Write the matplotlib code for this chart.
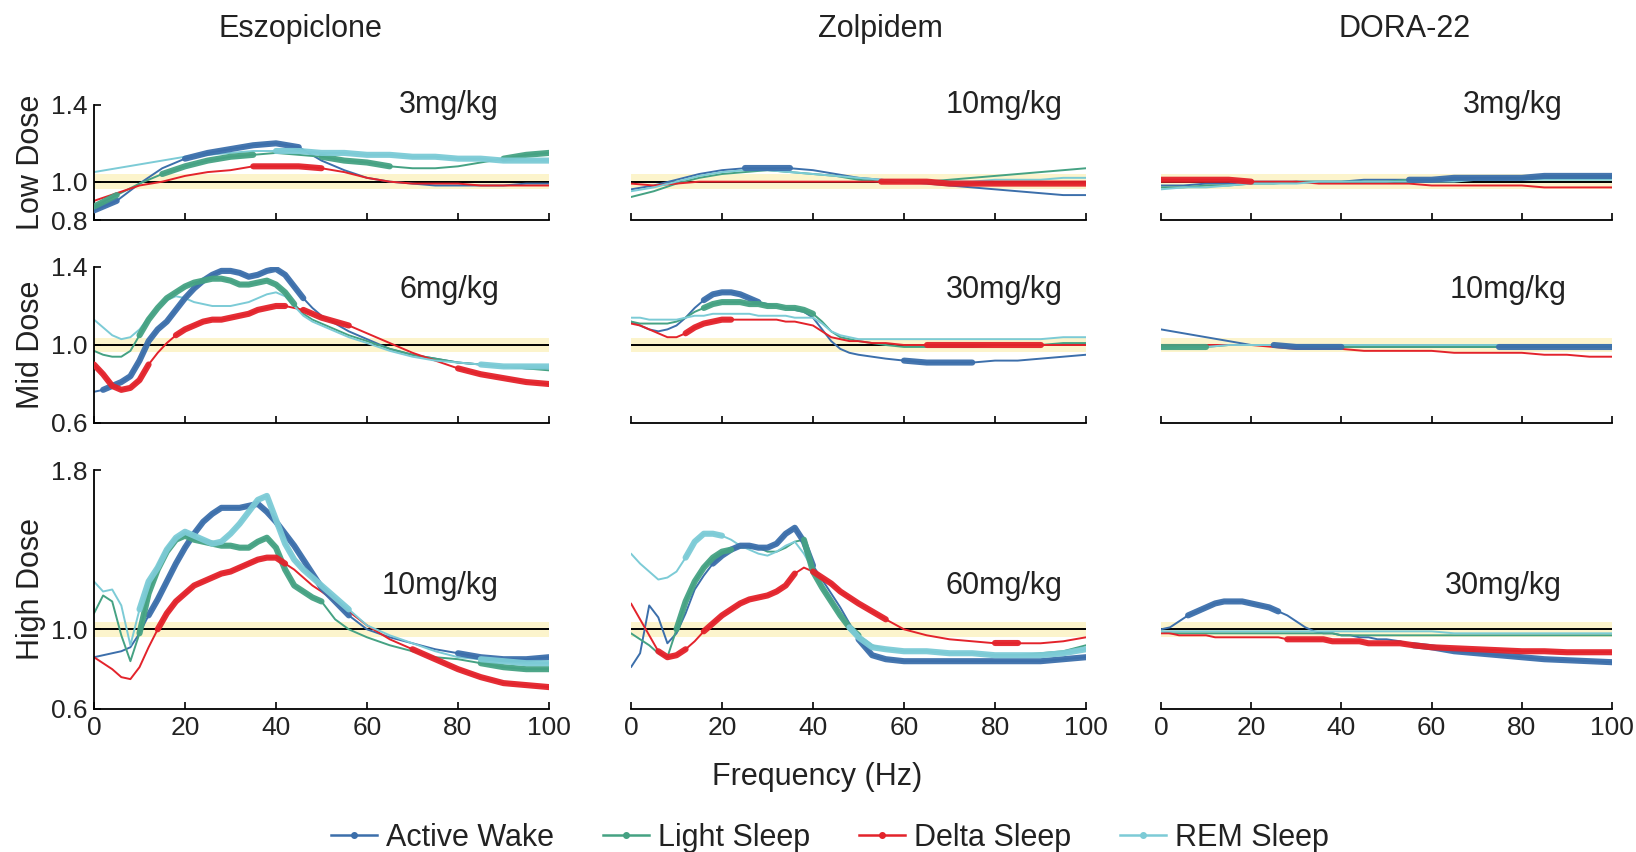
import numpy as np
import matplotlib
matplotlib.use("Agg")
import matplotlib.pyplot as plt
from matplotlib.lines import Line2D

plt.rcParams["font.family"] = ["Liberation Sans", "Noto Sans CJK JP", "DejaVu Sans"]

# ---------------------------------------------------------------- labels
DRUGS = ["Eszopiclone", "Zolpidem", "DORA-22"]
DOSE_ROWS = ["Low Dose", "Mid Dose", "High Dose"]
DOSE_TEXT = [["3mg/kg", "10mg/kg", "3mg/kg"],
             ["6mg/kg", "30mg/kg", "10mg/kg"],
             ["10mg/kg", "60mg/kg", "30mg/kg"]]
STATES = ["Active Wake", "Light Sleep", "Delta Sleep", "REM Sleep"]
Y_RANGES = [(0.8, 1.4), (0.6, 1.4), (0.6, 1.8)]
X_TICKS = [0, 20, 40, 60, 80, 100]

# ---------------------------------------------------------------- frequency grids (Hz)
FREQ_FINE = [0, 2, 4, 6, 8, 10, 12, 14, 16, 18, 20, 22, 24, 26, 28, 30, 32, 34, 36, 38,
             40, 42, 44, 46, 48, 50,
             53, 56, 60, 65, 70, 75, 80, 85, 90, 95, 100]
FREQ_COARSE = [0, 5, 10, 15, 20, 25, 30, 35, 40, 45, 50, 55, 60, 65, 70, 75, 80, 85, 90, 95, 100]

# ---------------------------------------------------------------- Eszopiclone
ESZ_LOW_AW = [0.85, 0.90, 0.99, 1.07, 1.12, 1.15, 1.17, 1.19, 1.20, 1.18, 1.11,
              1.06, 1.02, 1.00, 0.99, 0.98, 0.98, 0.98, 0.98, 0.99, 0.99]
ESZ_LOW_LS = [0.87, 0.93, 0.99, 1.04, 1.08, 1.11, 1.13, 1.14, 1.15, 1.14, 1.13,
              1.11, 1.10, 1.08, 1.07, 1.07, 1.08, 1.10, 1.12, 1.14, 1.15]
ESZ_LOW_DS = [0.90, 0.94, 0.98, 1.00, 1.03, 1.05, 1.06, 1.08, 1.08, 1.08, 1.07,
              1.05, 1.02, 1.00, 0.99, 0.99, 0.99, 0.98, 0.98, 0.98, 0.98]
ESZ_LOW_REM = [1.05, 1.07, 1.09, 1.11, 1.13, 1.14, 1.15, 1.16, 1.16, 1.16, 1.15,
               1.15, 1.14, 1.14, 1.13, 1.13, 1.12, 1.12, 1.11, 1.11, 1.11]
ESZ_LOW_SIG = [[(0, 5), (20, 45)], [(0, 5), (15, 35), (50, 65), (90, 100)],
               [(35, 50)], [(40, 100)]]

ESZ_MID_AW = [0.76, 0.77, 0.79, 0.81, 0.84, 0.92, 1.02, 1.08, 1.12, 1.18, 1.24, 1.29, 1.33,
              1.36, 1.38, 1.38, 1.37, 1.35, 1.36, 1.38, 1.39, 1.36, 1.30, 1.24, 1.19, 1.15,
              1.11, 1.07, 1.03, 0.98, 0.95, 0.93, 0.91, 0.90, 0.89, 0.88, 0.88]
ESZ_MID_LS = [0.97, 0.95, 0.94, 0.94, 0.97, 1.05, 1.13, 1.19, 1.24, 1.27, 1.30, 1.32, 1.33,
              1.34, 1.34, 1.33, 1.31, 1.31, 1.32, 1.33, 1.31, 1.27, 1.21, 1.16, 1.13, 1.11,
              1.08, 1.05, 1.02, 0.98, 0.95, 0.93, 0.91, 0.90, 0.89, 0.88, 0.87]
ESZ_MID_DS = [0.90, 0.85, 0.79, 0.77, 0.78, 0.82, 0.90, 0.96, 1.01, 1.05, 1.08, 1.10, 1.12,
              1.13, 1.13, 1.14, 1.15, 1.16, 1.18, 1.19, 1.20, 1.20, 1.19, 1.18, 1.16, 1.14,
              1.12, 1.10, 1.06, 1.01, 0.96, 0.92, 0.88, 0.85, 0.83, 0.81, 0.80]
ESZ_MID_REM = [1.13, 1.09, 1.05, 1.03, 1.04, 1.08, 1.14, 1.19, 1.23, 1.25, 1.24, 1.22, 1.21,
               1.20, 1.20, 1.20, 1.21, 1.22, 1.24, 1.26, 1.27, 1.25, 1.20, 1.15, 1.12, 1.10,
               1.07, 1.04, 1.01, 0.97, 0.94, 0.92, 0.91, 0.90, 0.89, 0.89, 0.89]
ESZ_MID_SIG = [[(2, 46)], [(10, 44)], [(0, 12), (18, 42), (46, 56), (80, 100)], [(85, 100)]]

ESZ_HIGH_AW = [0.86, 0.87, 0.88, 0.89, 0.91, 0.98, 1.07, 1.15, 1.24, 1.33, 1.41, 1.48, 1.54,
               1.58, 1.61, 1.61, 1.61, 1.62, 1.63, 1.59, 1.54, 1.48, 1.42, 1.35, 1.28, 1.21,
               1.14, 1.07, 1.00, 0.96, 0.93, 0.90, 0.88, 0.86, 0.85, 0.85, 0.86]
ESZ_HIGH_LS = [1.08, 1.17, 1.14, 0.97, 0.84, 0.98, 1.18, 1.30, 1.39, 1.45, 1.47, 1.45, 1.44,
               1.43, 1.42, 1.42, 1.41, 1.41, 1.44, 1.46, 1.41, 1.30, 1.22, 1.19, 1.16, 1.14,
               1.05, 1.00, 0.96, 0.92, 0.89, 0.86, 0.85, 0.83, 0.81, 0.80, 0.80]
ESZ_HIGH_DS = [0.86, 0.83, 0.80, 0.76, 0.75, 0.81, 0.91, 1.00, 1.08, 1.14, 1.18, 1.22, 1.24,
               1.26, 1.28, 1.29, 1.31, 1.33, 1.35, 1.36, 1.36, 1.33, 1.30, 1.26, 1.22, 1.19,
               1.14, 1.09, 1.02, 0.95, 0.90, 0.85, 0.80, 0.76, 0.73, 0.72, 0.71]
ESZ_HIGH_REM = [1.24, 1.19, 1.20, 1.12, 0.92, 1.10, 1.24, 1.31, 1.40, 1.46, 1.49, 1.47, 1.45,
                1.43, 1.44, 1.48, 1.53, 1.59, 1.65, 1.67, 1.55, 1.43, 1.35, 1.30, 1.26, 1.22,
                1.16, 1.10, 1.02, 0.97, 0.93, 0.89, 0.86, 0.85, 0.84, 0.83, 0.83]
ESZ_HIGH_SIG = [[(12, 56), (80, 100)], [(10, 50), (85, 100)],
                [(14, 42), (70, 100)], [(10, 56), (85, 100)]]

# ---------------------------------------------------------------- Zolpidem
ZOL_LOW_AW = [0.96, 0.98, 1.01, 1.04, 1.06, 1.07, 1.07, 1.07, 1.06, 1.04, 1.02,
              1.01, 1.00, 0.99, 0.98, 0.97, 0.96, 0.95, 0.94, 0.93, 0.93]
ZOL_LOW_LS = [0.92, 0.95, 0.99, 1.02, 1.04, 1.05, 1.06, 1.05, 1.04, 1.03, 1.01,
              1.00, 1.00, 1.00, 1.01, 1.02, 1.03, 1.04, 1.05, 1.06, 1.07]
ZOL_LOW_DS = [0.99, 0.98, 0.99, 1.00, 1.00, 1.00, 1.00, 1.00, 1.00, 1.00, 1.00,
              1.00, 1.00, 1.00, 0.99, 0.99, 0.99, 0.99, 0.99, 0.99, 0.99]
ZOL_LOW_REM = [0.95, 0.97, 1.00, 1.03, 1.05, 1.06, 1.06, 1.05, 1.04, 1.03, 1.02,
               1.01, 1.00, 1.00, 1.00, 1.00, 1.01, 1.01, 1.01, 1.02, 1.02]
ZOL_LOW_SIG = [[(25, 35)], [], [(55, 100)], []]

ZOL_MID_AW = [1.12, 1.10, 1.08, 1.07, 1.08, 1.10, 1.14, 1.19, 1.23, 1.26, 1.27, 1.27, 1.26,
              1.24, 1.22, 1.21, 1.20, 1.19, 1.18, 1.17, 1.14, 1.08, 1.02, 0.98, 0.96, 0.95,
              0.94, 0.93, 0.92, 0.91, 0.91, 0.91, 0.92, 0.92, 0.93, 0.94, 0.95]
ZOL_MID_LS = [1.12, 1.11, 1.11, 1.11, 1.11, 1.12, 1.14, 1.17, 1.19, 1.21, 1.22, 1.22, 1.22,
              1.21, 1.21, 1.20, 1.20, 1.19, 1.19, 1.18, 1.16, 1.12, 1.07, 1.04, 1.03, 1.02,
              1.01, 1.00, 0.99, 0.99, 0.99, 0.99, 1.00, 1.00, 1.00, 1.01, 1.01]
ZOL_MID_DS = [1.11, 1.10, 1.08, 1.06, 1.04, 1.04, 1.06, 1.09, 1.11, 1.12, 1.13, 1.13, 1.13,
              1.13, 1.13, 1.13, 1.13, 1.12, 1.12, 1.11, 1.10, 1.07, 1.04, 1.03, 1.02, 1.02,
              1.01, 1.01, 1.00, 1.00, 1.00, 1.00, 1.00, 1.00, 1.00, 1.00, 1.00]
ZOL_MID_REM = [1.14, 1.14, 1.13, 1.13, 1.13, 1.13, 1.14, 1.15, 1.15, 1.16, 1.16, 1.16, 1.16,
               1.16, 1.15, 1.15, 1.15, 1.15, 1.14, 1.14, 1.14, 1.11, 1.07, 1.05, 1.04, 1.03,
               1.03, 1.03, 1.03, 1.03, 1.03, 1.03, 1.03, 1.03, 1.03, 1.04, 1.04]
ZOL_MID_SIG = [[(16, 28), (60, 75)], [(16, 40)], [(12, 22), (65, 90)], []]

ZOL_HIGH_AW = [0.81, 0.88, 1.12, 1.06, 0.93, 0.98, 1.08, 1.20, 1.27, 1.33, 1.37, 1.40, 1.42,
               1.42, 1.41, 1.41, 1.43, 1.48, 1.51, 1.44, 1.32, 1.25, 1.18, 1.11, 1.03, 0.95,
               0.87, 0.85, 0.84, 0.84, 0.84, 0.84, 0.84, 0.84, 0.84, 0.85, 0.86]
ZOL_HIGH_LS = [0.98, 0.95, 0.92, 0.88, 0.86, 1.00, 1.14, 1.24, 1.31, 1.36, 1.39, 1.40, 1.41,
               1.41, 1.41, 1.39, 1.39, 1.41, 1.44, 1.45, 1.29, 1.21, 1.14, 1.07, 1.01, 0.97,
               0.92, 0.90, 0.89, 0.89, 0.88, 0.88, 0.87, 0.87, 0.88, 0.89, 0.92]
ZOL_HIGH_DS = [1.13, 1.05, 0.97, 0.89, 0.86, 0.87, 0.90, 0.94, 0.99, 1.03, 1.07, 1.10, 1.13,
               1.15, 1.16, 1.17, 1.19, 1.22, 1.28, 1.31, 1.29, 1.26, 1.23, 1.19, 1.16, 1.13,
               1.09, 1.05, 1.00, 0.97, 0.95, 0.94, 0.93, 0.93, 0.93, 0.94, 0.96]
ZOL_HIGH_REM = [1.38, 1.33, 1.29, 1.25, 1.26, 1.29, 1.36, 1.44, 1.48, 1.48, 1.47, 1.45, 1.42,
                1.40, 1.38, 1.37, 1.39, 1.42, 1.44, 1.38, 1.30, 1.22, 1.15, 1.07, 1.01, 0.96,
                0.91, 0.90, 0.89, 0.89, 0.88, 0.88, 0.87, 0.87, 0.87, 0.88, 0.90]
ZOL_HIGH_SIG = [[(18, 40), (50, 100)], [(10, 22), (38, 50)],
                [(6, 12), (16, 36), (40, 56), (80, 85)], [(12, 20), (48, 100)]]

# ---------------------------------------------------------------- DORA-22
DORA_LOW_AW = [0.98, 0.98, 0.99, 0.99, 1.00, 1.00, 1.00, 1.00, 1.00, 1.01, 1.01,
               1.01, 1.01, 1.02, 1.02, 1.02, 1.02, 1.03, 1.03, 1.03, 1.03]
DORA_LOW_LS = [0.97, 0.97, 0.98, 0.98, 0.99, 0.99, 1.00, 1.00, 1.00, 1.00, 1.00,
               1.01, 1.01, 1.01, 1.01, 1.01, 1.02, 1.02, 1.02, 1.02, 1.02]
DORA_LOW_DS = [1.01, 1.01, 1.01, 1.01, 1.00, 1.00, 1.00, 0.99, 0.99, 0.99, 0.99,
               0.99, 0.98, 0.98, 0.98, 0.98, 0.98, 0.97, 0.97, 0.97, 0.97]
DORA_LOW_REM = [0.96, 0.97, 0.97, 0.98, 0.99, 0.99, 0.99, 1.00, 1.00, 1.00, 1.00,
                1.00, 1.00, 1.00, 1.01, 1.01, 1.01, 1.01, 1.01, 1.01, 1.01]
DORA_LOW_SIG = [[(55, 100)], [], [(0, 20)], []]

DORA_MID_AW = [1.08, 1.06, 1.04, 1.02, 1.00, 1.00, 0.99, 0.99, 0.99, 0.99, 0.99,
               0.99, 0.99, 0.99, 0.99, 0.99, 0.99, 0.99, 0.99, 0.99, 0.99]
DORA_MID_LS = [0.99, 0.99, 0.99, 1.00, 1.00, 1.00, 1.00, 0.99, 0.99, 0.99, 0.99,
               0.99, 0.99, 0.99, 0.99, 0.99, 0.99, 0.99, 0.99, 0.99, 0.99]
DORA_MID_DS = [1.00, 1.00, 1.00, 1.00, 1.00, 0.99, 0.98, 0.98, 0.98, 0.97, 0.97,
               0.97, 0.97, 0.96, 0.96, 0.96, 0.96, 0.95, 0.95, 0.94, 0.94]
DORA_MID_REM = [0.98, 0.99, 0.99, 1.00, 1.00, 1.00, 1.00, 1.00, 1.00, 1.00, 1.00,
                1.00, 1.00, 1.00, 1.00, 1.00, 1.00, 1.00, 1.00, 1.00, 1.00]
DORA_MID_SIG = [[(25, 40), (75, 100)], [(0, 10)], [], []]

DORA_HIGH_AW = [1.00, 1.01, 1.04, 1.07, 1.09, 1.11, 1.13, 1.14, 1.14, 1.14, 1.13, 1.12, 1.11,
                1.09, 1.07, 1.04, 1.01, 0.99, 0.98, 0.98, 0.97, 0.97, 0.96, 0.96, 0.95, 0.95,
                0.94, 0.92, 0.91, 0.89, 0.88, 0.87, 0.86, 0.85, 0.845, 0.84, 0.835]
DORA_HIGH_LS = [0.99, 0.98, 0.98, 0.98, 0.98, 0.98, 0.98, 0.98, 0.98, 0.98, 0.98, 0.98, 0.98,
                0.98, 0.98, 0.98, 0.98, 0.98, 0.98, 0.98, 0.97, 0.97, 0.97, 0.97, 0.97, 0.97,
                0.97, 0.97, 0.97, 0.97, 0.97, 0.97, 0.97, 0.97, 0.97, 0.97, 0.97]
DORA_HIGH_DS = [0.98, 0.98, 0.97, 0.97, 0.97, 0.97, 0.96, 0.96, 0.96, 0.96, 0.96, 0.96, 0.96,
                0.96, 0.95, 0.95, 0.95, 0.95, 0.95, 0.94, 0.94, 0.94, 0.94, 0.93, 0.93, 0.93,
                0.93, 0.92, 0.91, 0.905, 0.90, 0.895, 0.89, 0.89, 0.885, 0.885, 0.885]
DORA_HIGH_REM = [0.99, 0.99, 0.99, 0.99, 0.99, 0.99, 0.99, 0.99, 0.99, 0.99, 0.99, 0.99, 0.99,
                 0.99, 0.99, 0.99, 0.99, 0.99, 0.99, 0.99, 0.99, 0.99, 0.99, 0.99, 0.99, 0.99,
                 0.99, 0.99, 0.99, 0.98, 0.98, 0.98, 0.98, 0.98, 0.98, 0.98, 0.98]
DORA_HIGH_SIG = [[(6, 26), (55, 100)], [], [(28, 100)], []]

# ---------------------------------------------------------------- styling
COLORS = ["#3c6fab", "#45a283", "#e3232b", "#7ccbd6"]
BAND_COLOR = "#fcf4cc"
FIG_W, FIG_H = 1636, 852
COL_LEFT = [94, 631, 1161]
COL_WIDTH = [455, 455, 451]
ROW_TOP = [105, 267, 470]
ROW_BOTTOM = [220, 423, 709]
DOSE_POS = [[(78, 1.40), (82, 1.40), (78, 1.40)],
            [(78, 1.28), (82, 1.28), (77, 1.28)],
            [(76, 1.22), (82, 1.22), (76, 1.22)]]

PANELS = [
    [(FREQ_COARSE, [ESZ_LOW_AW, ESZ_LOW_LS, ESZ_LOW_DS, ESZ_LOW_REM], ESZ_LOW_SIG),
     (FREQ_COARSE, [ZOL_LOW_AW, ZOL_LOW_LS, ZOL_LOW_DS, ZOL_LOW_REM], ZOL_LOW_SIG),
     (FREQ_COARSE, [DORA_LOW_AW, DORA_LOW_LS, DORA_LOW_DS, DORA_LOW_REM], DORA_LOW_SIG)],
    [(FREQ_FINE, [ESZ_MID_AW, ESZ_MID_LS, ESZ_MID_DS, ESZ_MID_REM], ESZ_MID_SIG),
     (FREQ_FINE, [ZOL_MID_AW, ZOL_MID_LS, ZOL_MID_DS, ZOL_MID_REM], ZOL_MID_SIG),
     (FREQ_COARSE, [DORA_MID_AW, DORA_MID_LS, DORA_MID_DS, DORA_MID_REM], DORA_MID_SIG)],
    [(FREQ_FINE, [ESZ_HIGH_AW, ESZ_HIGH_LS, ESZ_HIGH_DS, ESZ_HIGH_REM], ESZ_HIGH_SIG),
     (FREQ_FINE, [ZOL_HIGH_AW, ZOL_HIGH_LS, ZOL_HIGH_DS, ZOL_HIGH_REM], ZOL_HIGH_SIG),
     (FREQ_FINE, [DORA_HIGH_AW, DORA_HIGH_LS, DORA_HIGH_DS, DORA_HIGH_REM], DORA_HIGH_SIG)],
]

TEXT_SIZE = 22
TICK_SIZE = 19
TEXT_COLOR = "#222222"

fig = plt.figure(figsize=(FIG_W / 100, FIG_H / 100), dpi=100)
fig.patch.set_facecolor("white")

for r in range(3):
    for c in range(3):
        left = COL_LEFT[c] / FIG_W
        bottom = 1 - ROW_BOTTOM[r] / FIG_H
        height = (ROW_BOTTOM[r] - ROW_TOP[r]) / FIG_H
        ax = fig.add_axes([left, bottom, COL_WIDTH[c] / FIG_W, height])
        ylo, yhi = Y_RANGES[r]
        ax.set_xlim(0, 100)
        ax.set_ylim(ylo, yhi)

        # reference band and baseline at 1.0
        ax.axhspan(0.962, 1.038, color=BAND_COLOR, lw=0, zorder=0)
        ax.axhline(1.0, color="black", lw=1.4, zorder=1)

        freq, series, sig = PANELS[r][c]
        f = np.asarray(freq, dtype=float)
        for vals, col in zip(series, COLORS):
            ax.plot(f, vals, color=col, lw=1.4, zorder=2,
                    solid_joinstyle="round", solid_capstyle="round")
        # significant frequency ranges drawn as heavy strokes
        for vals, col, ranges in zip(series, COLORS, sig):
            v = np.asarray(vals, dtype=float)
            for a, b in ranges:
                m = (f >= a) & (f <= b)
                ax.plot(f[m], v[m], color=col, lw=4.4, zorder=3, alpha=0.95,
                        solid_joinstyle="round", solid_capstyle="round")

        ax.spines["top"].set_visible(False)
        ax.spines["right"].set_visible(False)
        ax.spines["bottom"].set_linewidth(1.3)
        ax.spines["left"].set_linewidth(1.3)
        ax.set_xticks(X_TICKS)
        ax.tick_params(axis="x", direction="in", length=5, width=1.2, pad=5)
        if r == 2:
            ax.set_xticklabels([str(t) for t in X_TICKS],
                               fontsize=TICK_SIZE, color=TEXT_COLOR)
        else:
            ax.set_xticklabels([])
        if c == 0:
            ax.set_yticks([ylo, 1.0, yhi])
            ax.set_yticklabels([f"{v:.1f}" for v in (ylo, 1.0, yhi)],
                               fontsize=TICK_SIZE, color=TEXT_COLOR)
            ax.tick_params(axis="y", direction="in", length=5, width=1.2, pad=5)
        else:
            ax.spines["left"].set_visible(False)
            ax.set_yticks([])

        tx, ty = DOSE_POS[r][c]
        ax.text(tx, ty, DOSE_TEXT[r][c], ha="center", va="center",
                fontsize=TEXT_SIZE, color=TEXT_COLOR)

# column titles
for x, name in zip([300, 880, 1405], DRUGS):
    fig.text(x / FIG_W, 1 - 29 / FIG_H, name, ha="center", va="center",
             fontsize=TEXT_SIZE, color=TEXT_COLOR)

# row labels
for r, name in enumerate(DOSE_ROWS):
    yc = (ROW_TOP[r] + ROW_BOTTOM[r]) / 2
    fig.text(31 / FIG_W, 1 - yc / FIG_H, name, rotation=90, ha="center",
             va="center", fontsize=TEXT_SIZE, color=TEXT_COLOR)

fig.text(817 / FIG_W, 1 - 777 / FIG_H, "Frequency (Hz)", ha="center", va="center",
         fontsize=TEXT_SIZE, color=TEXT_COLOR)

handles = [Line2D([0], [0], color=col, lw=1.8, marker="o", markersize=4)
           for col in COLORS]
fig.legend(handles, STATES, loc="center", bbox_to_anchor=(830 / FIG_W, 1 - 838 / FIG_H),
           ncol=4, frameon=False, fontsize=TEXT_SIZE, handlelength=1.5,
           handletextpad=0.3, columnspacing=1.6, numpoints=1,
           labelcolor=TEXT_COLOR)

fig.savefig("out.png", dpi=100, facecolor="white")
